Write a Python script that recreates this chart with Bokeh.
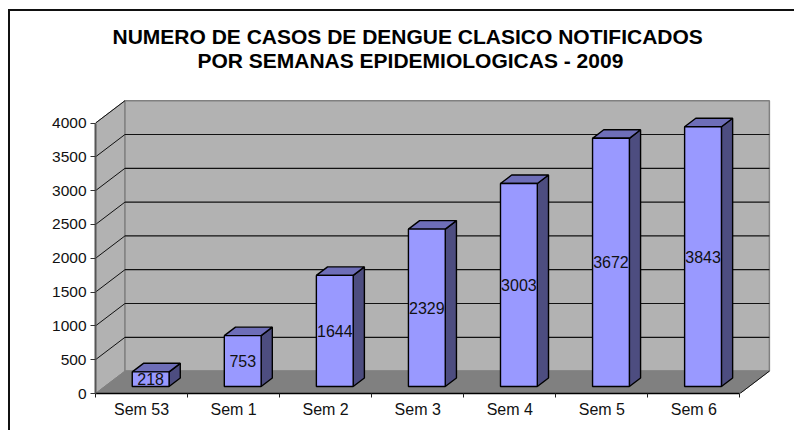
from bokeh.plotting import figure
from bokeh.embed import file_html
from bokeh.resources import INLINE
from bokeh.models import FixedTicker, Range1d, Title
from bokeh.core.properties import value

categories = ["Sem 53", "Sem 1", "Sem 2", "Sem 3", "Sem 4", "Sem 5", "Sem 6"]
cases = [218, 753, 1644, 2329, 3003, 3672, 3843]
y_ticks = [0, 500, 1000, 1500, 2000, 2500, 3000, 3500, 4000]
title_lines = ["NUMERO DE CASOS DE DENGUE CLASICO NOTIFICADOS", "POR SEMANAS EPIDEMIOLOGICAS - 2009"]

FONT = "Liberation Sans"
DX, DY = 0.32, 331          # wall depth in axis units
BAR_W = 0.40                # bar width
B_FRONT, B_BACK = 0.31, 0.69  # bar depth as part of the floor depth
n = len(categories)
top = y_ticks[-1]

p = figure(width=786, height=421, output_backend="svg", toolbar_location=None,
           x_range=Range1d(0, 7.343), y_range=Range1d(0, 5118),
           min_border_left=85, min_border_right=25, min_border_bottom=39,
           min_border_top=36, background_fill_color="white",
           border_fill_color="white", outline_line_color=None)
p.margin = (9, 0, 0, 8)
p.styles = {"border-top": "2px solid #111111", "border-left": "2px solid #111111"}
p.grid.visible = False

# Walls and floor
p.patch([0, DX, DX, 0], [0, DY, top + DY, top], fill_color="#b2b2b2", line_color="#808080")
p.patch([DX, n + DX, n + DX, DX], [DY, DY, top + DY, top + DY], fill_color="#b2b2b2",
        line_color="#808080", line_width=1.5)
p.patch([0, n, n + DX, DX], [0, 0, DY, DY], fill_color="#808080", line_color="#808080")

# Gridlines on both walls
grid = y_ticks[1:-1]
p.segment([DX] * len(grid), [v + DY for v in grid], [n + DX] * len(grid), [v + DY for v in grid],
          line_color="#111111", line_width=1.2)
p.segment([0] * len(y_ticks[1:]), y_ticks[1:], [DX] * len(y_ticks[1:]), [v + DY for v in y_ticks[1:]],
          line_color="#111111", line_width=1)
p.segment([n], [0], [n + DX], [DY], line_color="#111111", line_width=1)

# Bars
cx = [i + 0.5 + DX * B_FRONT for i in range(n)]
y0 = DY * B_FRONT
bdx = DX * (B_BACK - B_FRONT)
bdy = DY * (B_BACK - B_FRONT)
left = [c - BAR_W / 2 for c in cx]
right = [c + BAR_W / 2 for c in cx]
tops = [y0 + v for v in cases]
p.patches([[r, r + bdx, r + bdx, r] for r in right],
          [[y0, y0 + bdy, t + bdy, t] for t in tops],
          fill_color="#4d4d80", line_color="black", line_width=1.4)
p.patches([[l, r, r + bdx, l + bdx] for l, r in zip(left, right)],
          [[t, t, t + bdy, t + bdy] for t in tops],
          fill_color="#6e6eb8", line_color="black", line_width=1.4)
p.quad(left=left, right=right, bottom=y0, top=tops, fill_color="#9999ff",
       line_color="black", line_width=1.4)
p.text(cx, [y0 + v / 2 for v in cases], [str(v) for v in cases], text_align="center",
       text_baseline="middle", text_font=value(FONT), text_font_size="16px", text_color="#111111")

# Axes
ax = p.xaxis[0]
centers = [i + 0.5 for i in range(n)]
ax.ticker = FixedTicker(ticks=centers, minor_ticks=list(range(n + 1)))
ax.major_label_overrides = dict(zip(centers, categories))
ax.major_tick_line_color = None
ax.major_tick_in = 0
ax.major_tick_out = 5
ax.minor_tick_in = 0
ax.minor_tick_out = 4
ax.minor_tick_line_color = "#222222"
ax.axis_line_color = "black"
ax.axis_line_width = 1.5
ax.bounds = (0, n)
ax.major_label_text_font = FONT
ax.major_label_text_font_size = "16px"
ax.major_label_text_color = "#111111"
ax.major_label_standoff = 2

ay = p.yaxis[0]
ay.ticker = FixedTicker(ticks=y_ticks)
ay.bounds = (0, top)
ay.axis_line_color = "#555555"
ay.axis_line_width = 2
ay.major_tick_in = 0
ay.major_tick_out = 5
ay.minor_tick_line_color = None
ay.major_tick_line_color = "#333333"
ay.major_label_text_font = FONT
ay.major_label_text_font_size = "15.5px"
ay.major_label_text_color = "#111111"
ay.major_label_standoff = 4

# Title: first line as the plot title, second line as text in the extended plot area
p.add_layout(Title(text=title_lines[0], align="left", text_font=FONT, text_font_size="21px",
                   text_font_style="bold", text_color="black", offset=17, standoff=0), "above")
p.text([3.42], [4926], [title_lines[1]], text_align="center", text_baseline="middle",
       text_font=value(FONT), text_font_size="21px", text_font_style="bold", text_color="black")

open("out.html", "w").write(file_html(p, INLINE))
